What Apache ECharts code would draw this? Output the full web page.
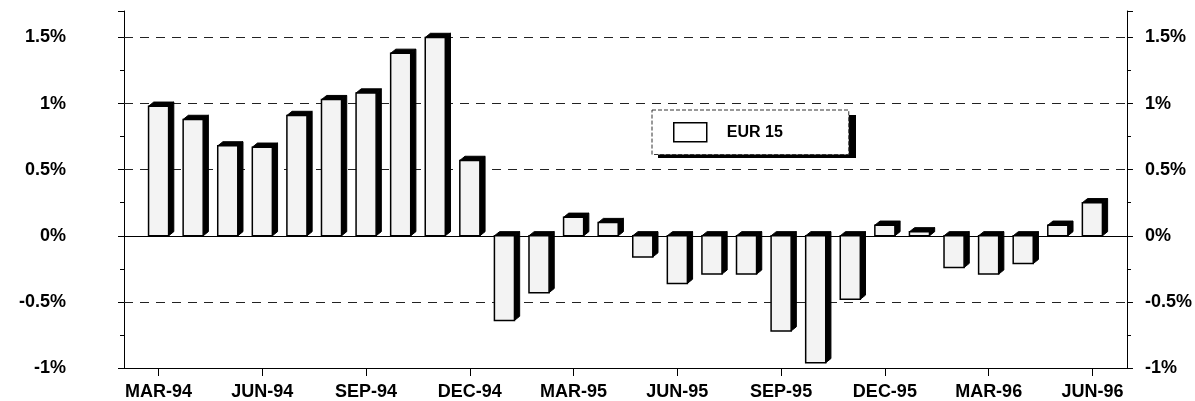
<!DOCTYPE html>
<html>
<head>
<meta charset="utf-8">
<script src="https://cdn.jsdelivr.net/npm/echarts@6/dist/echarts.min.js"></script>
<style>
  html, body { margin: 0; padding: 0; background: #fff; }
  #chart { width: 1195px; height: 401px; }
</style>
</head>
<body>
<div id="chart"></div>
<script>
// Monthly change, EUR 15
const months = [
  'MAR-94','APR-94','MAY-94','JUN-94','JUL-94','AUG-94','SEP-94','OCT-94','NOV-94','DEC-94',
  'JAN-95','FEB-95','MAR-95','APR-95','MAY-95','JUN-95','JUL-95','AUG-95','SEP-95','OCT-95',
  'NOV-95','DEC-95','JAN-96','FEB-96','MAR-96','APR-96','MAY-96','JUN-96'
];
const eur15 = [
  0.98, 0.88, 0.68, 0.67, 0.91, 1.03, 1.08, 1.38, 1.50, 0.57,
  -0.64, -0.43, 0.14, 0.10, -0.16, -0.36, -0.29, -0.29, -0.72, -0.96,
  -0.48, 0.08, 0.03, -0.24, -0.29, -0.21, 0.08, 0.25
];
const seriesName = 'EUR 15';
const yTicks = [-1, -0.5, 0, 0.5, 1, 1.5];
const gridValues = [-0.5, 0.5, 1, 1.5];

// half a slot of blank space on each side of the month run
const axisCats = [' '].concat(months, ['  ']);
const barData = eur15.map((v, i) => [i + 1, v]);

const labelFont = { fontFamily: '"Liberation Sans", Arial, sans-serif', fontWeight: 'bold', fontSize: 18, color: '#000' };
const showQuarter = (idx) => idx >= 1 && idx <= months.length && (idx - 1) % 3 === 0;
const fmtPct = (v) => (yTicks.indexOf(v) >= 0 ? String(v) + '%' : '');

function yAxisDef(pos, margin, align, pad) {
  return {
    type: 'value', position: pos, min: -1, max: 1.7, interval: 0.5,
    axisLine: { show: true, lineStyle: { color: '#000', width: 1 } },
    axisTick: { show: true, length: 6, lineStyle: { color: '#000' } },
    minorTick: { show: true, splitNumber: 2, length: 4, lineStyle: { color: '#000' } },
    splitLine: { show: false },
    axisLabel: Object.assign({ margin: margin, align: align, formatter: fmtPct, showMaxLabel: false, padding: pad }, labelFont)
  };
}

// draws each month as a box with a front face, a dark top and a dark right side
function renderBar(params, api) {
  const idx = api.value(0);
  const v = api.value(1);
  const p = api.coord([idx, v]);
  const z = api.coord([idx, 0]);
  const slot = api.size([1, 0])[0];
  const hw = slot * 0.29;
  const dx = slot * 0.15, dy = slot * 0.12;
  const x0 = p[0] - hw, x1 = p[0] + hw;
  const yTop = Math.min(p[1], z[1]);
  const yBot = Math.max(p[1], z[1]);
  return {
    type: 'group',
    children: [
      { type: 'polygon', shape: { points: [[x1, yTop], [x1 + dx, yTop - dy], [x1 + dx, yBot - dy], [x1, yBot]] },
        style: { fill: '#000', stroke: '#000', lineWidth: 1 } },
      { type: 'polygon', shape: { points: [[x0, yTop], [x0 + dx, yTop - dy], [x1 + dx, yTop - dy], [x1, yTop]] },
        style: { fill: '#000', stroke: '#000', lineWidth: 1 } },
      { type: 'rect', shape: { x: x0, y: yTop, width: x1 - x0, height: yBot - yTop },
        style: { fill: '#f3f3f3', stroke: '#000', lineWidth: 1.5 } }
    ]
  };
}

const legendBox = { left: 652, top: 110, width: 198, height: 43 };

const chart = echarts.init(document.getElementById('chart'), null, { renderer: 'canvas' });
chart.setOption({
  backgroundColor: '#fff',
  animation: false,
  grid: { left: 124, right: 68, top: 11, bottom: 33, containLabel: false },
  // solid drop shadow behind the legend box
  graphic: [{
    type: 'rect', z: 1, silent: true,
    shape: { x: legendBox.left + 6, y: legendBox.top + 5, width: legendBox.width, height: legendBox.height },
    style: { fill: '#000' }
  }],
  legend: {
    left: legendBox.left, top: legendBox.top,
    orient: 'horizontal',
    padding: [12, 66, 12, 21],
    backgroundColor: '#fff',
    borderColor: '#333', borderWidth: 1, borderType: [4, 2],
    z: 10,
    itemWidth: 33, itemHeight: 19,
    textStyle: { fontFamily: '"Liberation Sans", Arial, sans-serif', fontWeight: 'bold', fontSize: 16, color: '#000', padding: [0, 0, 0, 15] },
    data: [{ name: seriesName, icon: 'rect', itemStyle: { color: '#fff', borderColor: '#000', borderWidth: 1.5 } }]
  },
  xAxis: {
    type: 'category', data: axisCats, boundaryGap: false,
    axisLine: { show: true, onZero: false, lineStyle: { color: '#000', width: 1.2 } },
    axisTick: { show: true, length: 8, interval: showQuarter, lineStyle: { color: '#000' } },
    axisLabel: Object.assign({ margin: 15, interval: showQuarter }, labelFont),
    splitLine: { show: false }
  },
  yAxis: [
    yAxisDef('left', 58, 'right', [8, 0, 0, 0]),
    yAxisDef('right', 18, 'left', 0)
  ],
  series: [{
    name: seriesName,
    type: 'custom',
    renderItem: renderBar,
    encode: { x: 0, y: 1 },
    data: barData,
    clip: false,
    z: 3,
    markLine: {
      silent: true, symbol: 'none', label: { show: false }, z: 1,
      data: gridValues.map((g) => ({ yAxis: g, lineStyle: { color: '#222', width: 1, type: [9, 7] } }))
        .concat([{ yAxis: 0, lineStyle: { color: '#000', width: 1.2, type: 'solid' } }])
    }
  }]
});
</script>
</body>
</html>
